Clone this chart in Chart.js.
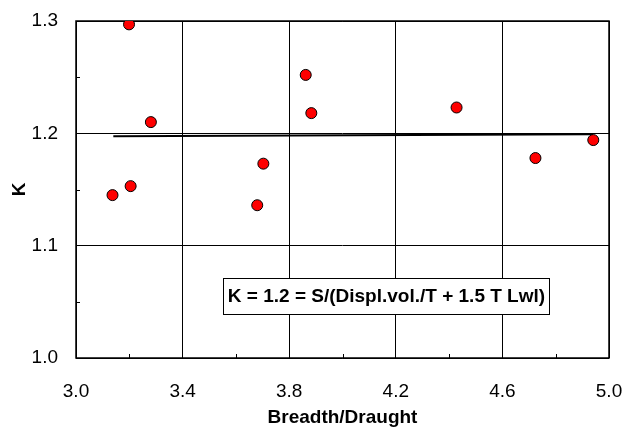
<!DOCTYPE html>
<html>
<head>
<meta charset="utf-8">
<script src="https://cdn.jsdelivr.net/npm/chart.js@4.4.1/dist/chart.umd.min.js"></script>
<style>
  html, body { margin: 0; padding: 0; background: #fff; }
  #wrap { width: 624px; height: 429px; }
</style>
</head>
<body>
<div id="wrap"><canvas id="chart" width="624" height="429"></canvas></div>
<script>
// measured points: Breadth/Draught vs K
const breadthDraught = [3.199, 3.281, 3.137, 3.205, 3.703, 3.680, 3.862, 3.883, 4.428, 4.724, 4.941];
const kValues = [1.297, 1.210, 1.145, 1.153, 1.173, 1.136, 1.252, 1.218, 1.223, 1.178, 1.194];

// fitted line
const fitX = [3.14, 4.94];
const fitK = [1.1975, 1.1991];

const xTicks = [3.0, 3.4, 3.8, 4.2, 4.6, 5.0];
const yTicks = [1.0, 1.1, 1.2, 1.3];
const xMinorTicks = [3.2, 3.6, 4.0, 4.4, 4.8];
const yMinorTicks = [1.05, 1.15, 1.25];

const formulaText = 'K = 1.2 = S/(Displ.vol./T + 1.5 T Lwl)';
const formulaAt = [4.165, 1.055];

const FONT = 'Arial, "Liberation Sans", sans-serif';

const framePlugin = {
    id: 'frame',
    beforeDatasetsDraw(chart) {
        const { ctx, chartArea: a, scales: { x, y } } = chart;
        ctx.save();
        ctx.strokeStyle = '#000';
        ctx.lineWidth = 1;
        ctx.beginPath();
        xMinorTicks.forEach(v => {
            const px = Math.round(x.getPixelForValue(v)) + 0.5;
            ctx.moveTo(px, a.bottom);
            ctx.lineTo(px, a.bottom - 4);
        });
        yMinorTicks.forEach(v => {
            const py = Math.round(y.getPixelForValue(v)) + 0.5;
            ctx.moveTo(a.left, py);
            ctx.lineTo(a.left + 4, py);
        });
        ctx.stroke();
        ctx.lineWidth = 1.5;
        ctx.strokeRect(a.left, a.top, a.right - a.left, a.bottom - a.top);
        ctx.restore();
    },
    afterDatasetsDraw(chart) {
        const { ctx, scales: { x, y } } = chart;
        const cx = x.getPixelForValue(formulaAt[0]);
        const cy = y.getPixelForValue(formulaAt[1]);
        ctx.save();
        ctx.font = 'bold 19px ' + FONT;
        const w = ctx.measureText(formulaText).width;
        const bw = Math.round(w + 9), bh = 36;
        const bx = Math.round(cx - bw / 2) + 0.5, by = Math.round(cy - bh / 2) + 0.5;
        ctx.fillStyle = '#fff';
        ctx.fillRect(bx, by, bw, bh);
        ctx.strokeStyle = '#000';
        ctx.lineWidth = 1;
        ctx.strokeRect(bx, by, bw, bh);
        ctx.fillStyle = '#000';
        ctx.textAlign = 'center';
        ctx.textBaseline = 'middle';
        ctx.fillText(formulaText, cx, cy + 1);
        ctx.restore();
    }
};

const ctx = document.getElementById('chart').getContext('2d');
new Chart(ctx, {
    type: 'scatter',
    data: {
        datasets: [
            {
                label: 'K',
                data: breadthDraught.map((b, i) => ({ x: b, y: kValues[i] })),
                backgroundColor: '#ff0000',
                borderColor: '#000',
                borderWidth: 1,
                pointRadius: 5.5,
                order: 0
            },
            {
                type: 'line',
                label: 'fit',
                data: fitX.map((b, i) => ({ x: b, y: fitK[i] })),
                borderColor: '#000',
                borderWidth: 2,
                pointRadius: 0,
                fill: false,
                order: 1
            }
        ]
    },
    options: {
        responsive: false,
        animation: false,
        layout: { padding: { top: 21, right: 15, left: 0, bottom: 0 } },
        plugins: { legend: { display: false }, tooltip: { enabled: false } },
        scales: {
            x: {
                type: 'linear',
                min: 3.0,
                max: 5.0,
                afterBuildTicks: s => { s.ticks = xTicks.map(v => ({ value: v })); },
                afterFit: s => { s.height = 71; s.paddingLeft = 0; s.paddingRight = 0; },
                ticks: {
                    callback: v => v.toFixed(1),
                    font: { family: FONT, size: 19 },
                    color: '#000',
                    padding: 22,
                    maxRotation: 0,
                    autoSkip: false
                },
                grid: { color: '#000', lineWidth: 1, drawTicks: false },
                border: { display: false },
                title: {
                    display: true,
                    text: 'Breadth/Draught',
                    color: '#000',
                    font: { family: FONT, size: 19, weight: 'bold' },
                    padding: { top: 0, bottom: 0 }
                }
            },
            y: {
                type: 'linear',
                min: 1.0,
                max: 1.3,
                afterBuildTicks: s => { s.ticks = yTicks.map(v => ({ value: v })); },
                afterFit: s => { s.width = 76; s.paddingTop = 0; s.paddingBottom = 0; },
                ticks: {
                    callback: v => v.toFixed(1),
                    font: { family: FONT, size: 19 },
                    color: '#000',
                    padding: 18
                },
                grid: { color: '#000', lineWidth: 1, drawTicks: false },
                border: { display: false },
                title: {
                    display: true,
                    text: 'K',
                    color: '#000',
                    font: { family: FONT, size: 19, weight: 'bold' },
                    padding: { top: 8, bottom: 0 }
                }
            }
        }
    },
    plugins: [framePlugin]
});
</script>
</body>
</html>
